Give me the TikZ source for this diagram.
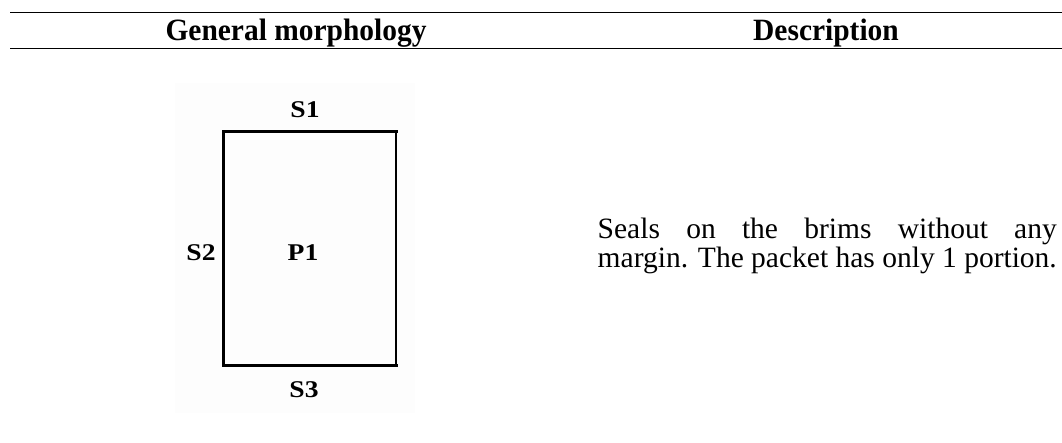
\documentclass[tikz,border=0pt]{standalone}
\usepackage{graphicx}
\usepackage{fontspec}
\setmainfont{Liberation Serif}
\newlength{\desclinewidth}
\begin{document}
\begin{tikzpicture}[x=1pt,y=-1pt,
  rulestyle/.style={line width=1.3pt},
  headtext/.style={font=\fontsize{31}{31}\selectfont\bfseries, anchor=base, inner sep=0pt},
  desctext/.style={font=\fontsize{29.5}{28}\selectfont, anchor=base east, inner sep=0pt},
  seallabel/.style={font=\fontsize{24}{24}\selectfont\bfseries, inner sep=0pt},
  sealthick/.style={line width=3pt, line cap=rect},
  sealthin/.style={line width=1.7pt}]
\useasboundingbox (0,0) rectangle (1062,443);
% table rules
\draw[rulestyle] (10,12.7) -- (1062,12.7);
\draw[rulestyle] (10,48.7) -- (1062,48.7);
\node[headtext] (h1) at (296,41) {\scalebox{0.95}[1]{General morphology}};
\node[headtext] (h2) at (826,41) {\scalebox{0.95}[1]{Description}};
% figure background
\fill[black!0.7] (175,83) rectangle (415,413);
% packet
\coordinate (tl) at (223.3,131.7);
\coordinate (tr) at (396,131.7);
\coordinate (bl) at (223.3,365);
\coordinate (br) at (396,365);
\draw[sealthin] (tr) -- (br);
\draw[sealthick] (tr) -- (tl) -- (bl) -- (br);
\node[seallabel] (s1) at (305,109.5) {\scalebox{1.15}[1]{S1}};
\node[seallabel] (s2) at (201,253) {\scalebox{1.15}[1]{S2}};
\node[seallabel] (p1) at (303,252.5) {\scalebox{1.15}[1]{P1}};
\node[seallabel] (s3) at (304,390) {\scalebox{1.15}[1]{S3}};
% description
\node[desctext] (d2) at (1057,267.5) {\settowidth{\desclinewidth}{margin. The packet has only 1 portion.}margin. The packet has only 1 portion.};
\node[desctext] (d1) at (1057,239) {\settowidth{\desclinewidth}{margin. The packet has only 1 portion.}\makebox[\desclinewidth][s]{Seals on the brims without any}};
\end{tikzpicture}
\end{document}
